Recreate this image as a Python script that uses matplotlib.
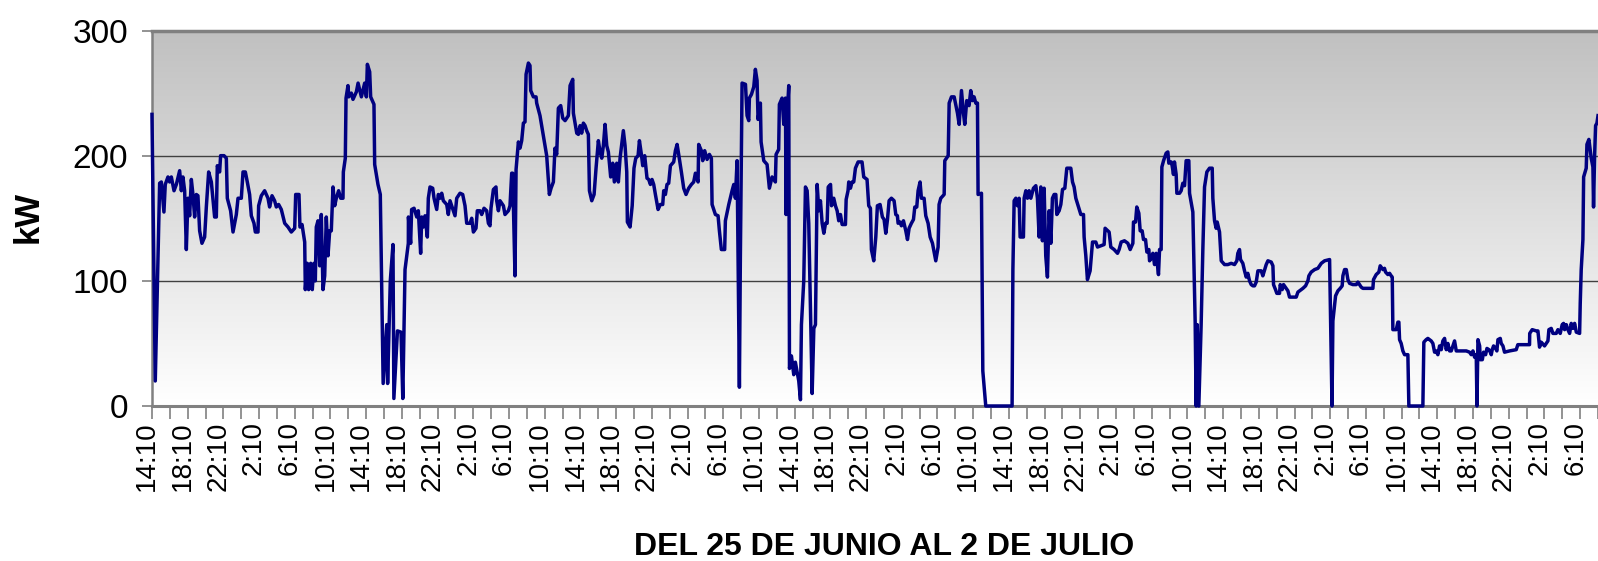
import numpy as np
import matplotlib
matplotlib.use("Agg")
import matplotlib.pyplot as plt
from matplotlib.colors import LinearSegmentedColormap
from matplotlib.transforms import ScaledTranslation

plt.rcParams['font.family'] = ['Liberation Sans', 'DejaVu Sans']

# hours after 25 June 14:10, and demand in kW
hours = [
    0.00, 0.37, 0.86, 1.05, 1.34, 1.49, 1.79, 1.98, 2.17, 2.47, 2.73, 3.10, 3.29, 3.47, 3.66, 3.85,
    4.03, 4.22, 4.41, 4.59, 4.78, 4.97, 5.15, 5.34, 5.60, 5.90, 6.09, 6.35, 6.65, 7.02, 7.21, 7.32,
    7.58, 7.69, 8.07, 8.33, 8.44, 8.81, 9.08, 9.45, 9.64, 10.01, 10.20, 10.46, 10.68, 10.94, 11.13,
    11.43, 11.58, 11.88, 11.95, 12.25, 12.62, 13.00, 13.18, 13.45, 13.74, 13.93, 14.19, 14.49, 14.87,
    15.24, 15.61, 15.99, 16.10, 16.47, 16.58, 16.81, 17.11, 17.18, 17.40, 17.55, 17.78, 17.96, 18.15,
    18.30, 18.41, 18.60, 18.79, 18.97, 19.16, 19.35, 19.53, 19.72, 19.91, 20.09, 20.28, 20.47, 20.65,
    20.91, 21.14, 21.40, 21.44, 21.66, 21.74, 21.96, 22.04, 22.33, 22.52, 22.90, 23.09, 23.46, 23.83,
    24.02, 24.13, 24.39, 24.50, 24.87, 24.95, 25.32, 25.58, 25.90, 26.30, 26.40, 26.70, 27.00, 27.10,
    27.50, 27.90, 28.10, 28.35, 28.72, 28.73, 28.98, 29.09, 29.36, 29.66, 29.84, 30.10, 30.22, 30.40,
    30.59, 30.85, 30.96, 31.15, 31.45, 31.60, 31.90, 32.08, 32.27, 32.46, 32.64, 33.02, 33.20, 33.39,
    33.58, 33.95, 34.14, 34.51, 34.81, 35.07, 35.26, 35.63, 35.82, 36.01, 36.30, 36.45, 36.75, 36.94,
    37.20, 37.50, 37.69, 37.87, 37.98, 38.25, 38.54, 38.62, 38.81, 38.99, 39.37, 39.55, 39.93, 40.11,
    40.30, 40.41, 40.56, 40.67, 40.79, 41.05, 41.23, 41.42, 41.61, 41.79, 41.91, 42.17, 42.35, 42.43,
    42.73, 43.03, 43.10, 43.47, 43.85, 44.22, 44.52, 44.71, 44.97, 45.15, 45.34, 45.53, 45.79, 46.02,
    46.28, 46.65, 46.84, 47.14, 47.21, 47.59, 47.77, 47.96, 48.14, 48.33, 48.52, 48.70, 48.89, 49.01,
    49.27, 49.53, 49.75, 50.01, 50.20, 50.39, 50.57, 50.76, 50.95, 51.13, 51.39, 51.62, 51.80, 52.07,
    52.25, 52.44, 52.63, 52.81, 53.00, 53.19, 53.26, 53.56, 53.80, 54.00, 54.20, 54.46, 54.61, 54.83,
    54.98, 55.20, 55.35, 55.46, 55.65, 55.84, 56.02, 56.21, 56.40, 56.70, 56.95, 57.22, 57.33, 57.52,
    57.70, 57.89, 58.08, 58.45, 58.64, 58.83, 59.01, 59.31, 59.57, 59.83, 60.13, 60.43, 60.69, 60.88,
    61.18, 61.25, 61.55, 61.70, 61.92, 62.19, 62.45, 62.67, 62.75, 63.12, 63.42, 63.57, 63.79, 64.16,
    64.24, 64.62, 64.99, 65.18, 65.36, 65.55, 65.81, 65.92, 66.11, 66.49, 66.67, 66.86, 66.93, 67.16,
    67.42, 67.60, 67.79, 67.90, 68.16, 68.24, 68.54, 68.91, 69.17, 69.47, 69.84, 69.92, 70.21, 70.29,
    70.59, 70.78, 70.97, 71.04, 71.15, 71.34, 71.42, 71.64, 71.90, 72.08, 72.46, 72.65, 72.76, 73.02,
    73.21, 73.40, 73.58, 73.96, 74.15, 74.33, 74.52, 74.71, 74.89, 75.08, 75.27, 75.46, 75.64, 75.76,
    76.02, 76.13, 76.38, 76.57, 76.76, 76.94, 77.13, 77.32, 77.69, 77.77, 77.98, 78.06, 78.25, 78.43,
    78.62, 78.81, 79.11, 79.55, 79.74, 80.11, 80.30, 80.49, 80.60, 80.86, 81.09, 81.27, 81.57, 81.83,
    82.02, 82.21, 82.40, 82.58, 82.84, 83.14, 83.33, 83.51, 83.59, 83.81, 83.96, 84.19, 84.45, 84.64,
    84.82, 85.08, 85.31, 85.46, 85.68, 85.83, 86.05, 86.20, 86.50, 86.69, 86.95, 87.18, 87.44, 87.63,
    87.81, 88.07, 88.18, 88.37, 88.75, 88.82, 89.20, 89.31, 89.57, 89.87, 90.24, 90.43, 90.69, 90.91,
    91.06, 91.28, 91.54, 91.73, 91.92, 92.10, 92.29, 92.48, 92.55, 92.93, 93.08, 93.41, 96.36, 96.45,
    96.59, 96.78, 96.96, 97.15, 97.26, 97.63, 97.71, 97.90, 98.08, 98.27, 98.46, 98.75, 99.02, 99.20,
    99.39, 99.58, 99.76, 99.95, 100.13, 100.32, 100.51, 100.70, 100.88, 101.07, 101.26, 101.37, 101.63,
    101.82, 102.01, 102.27, 102.49, 102.94, 103.13, 103.31, 103.50, 103.76, 104.06, 104.36, 104.43,
    104.62, 104.80, 105.10, 105.37, 105.74, 105.93, 106.30, 106.67, 106.78, 107.23, 107.42, 107.79,
    108.17, 108.35, 108.58, 108.95, 109.33, 109.59, 109.89, 109.96, 110.19, 110.33, 110.56, 110.71,
    110.93, 111.08, 111.31, 111.46, 111.68, 111.76, 111.94, 112.13, 112.32, 112.50, 112.76, 112.88,
    113.06, 113.14, 113.33, 113.62, 113.81, 113.92, 114.18, 114.29, 114.44, 114.55, 114.74, 114.82,
    115.12, 115.30, 115.49, 115.68, 115.86, 116.16, 116.24, 116.61, 116.87, 116.98, 117.10, 117.28,
    117.54, 117.73, 117.92, 118.18, 118.48, 118.78, 118.85, 119.04, 119.22, 119.34, 119.60, 119.79,
    120.16, 120.53, 120.91, 121.28, 121.54, 121.65, 121.84, 121.95, 122.21, 122.40, 122.59, 122.77,
    122.96, 123.15, 123.34, 123.52, 123.71, 123.90, 124.27, 124.45, 124.83, 125.02, 125.39, 125.58,
    125.65, 125.87, 126.02, 126.32, 126.40, 126.62, 126.77, 127.07, 127.26, 127.44, 128.19, 128.38,
    128.94, 129.24, 129.50, 129.61, 129.87, 130.25, 130.62, 131.00, 131.37, 131.93, 132.05, 132.20,
    132.30, 132.60, 132.86, 133.12, 133.34, 133.42, 133.61, 133.80, 133.98, 134.17, 134.54, 134.92,
    135.10, 135.28, 135.47, 135.66, 136.78, 136.85, 137.15, 137.45, 137.60, 137.90, 138.08, 138.20,
    138.46, 138.65, 138.83, 138.95, 139.02, 139.40, 139.58, 139.69, 139.77, 139.95, 140.14, 140.33,
    140.70, 140.81, 142.38, 142.49, 142.75, 142.94, 143.31, 143.50, 143.69, 143.87, 144.06, 144.25,
    144.44, 144.62, 144.81, 145.00, 145.18, 145.37, 145.56, 145.74, 145.93, 146.12, 146.49, 146.87,
    147.24, 147.61, 147.80, 147.99, 148.17, 148.36, 148.44, 148.55, 148.74, 148.81, 149.04, 149.18,
    149.41, 149.56, 149.78, 149.93, 150.04, 150.15, 150.30, 150.53, 150.67, 150.79, 151.05, 151.16,
    151.35, 151.53, 152.09, 152.84, 153.02, 154.33, 154.35, 154.63, 155.08, 155.27, 155.45, 155.64,
    156.01, 156.39, 156.50, 156.76, 156.95, 157.32, 157.51, 157.77, 157.99, 158.14, 158.26, 158.45,
    158.63, 158.82, 159.00, 159.19, 159.38, 159.57, 159.94, 160.01, 160.12, 160.31, 160.39, 160.68,
    160.76, 160.98, 161.24, 161.43, 161.50, 161.62, 161.73, 161.88, 162.00,
]
kw = [
    233, 20, 178, 179, 155, 177, 183, 179, 183, 172, 177, 188, 172, 183, 172, 125,
    166, 152, 181, 169, 151, 169, 168, 140, 130, 135, 159, 187, 179, 151, 151, 192,
    187, 200, 200, 198, 166, 156, 139, 153, 166, 166, 187, 187, 179, 169, 152,
    146, 139, 139, 160, 168, 172, 166, 159, 168, 164, 159, 161, 157, 146,
    143, 139, 142, 169, 169, 143, 145, 131, 93, 114, 93, 114, 93, 114,
    100, 143, 148, 112, 153, 93, 104, 151, 120, 140, 140, 175, 160, 166,
    172, 166, 166, 187, 198, 246, 256, 247, 250, 245, 251, 258, 247, 258,
    247, 273, 267, 247, 241, 193, 177, 169, 18, 65, 18, 100, 129, 6,
    60, 59, 6, 109, 130, 151, 130, 157, 158, 151, 156, 122, 151, 143,
    152, 135, 166, 175, 174, 166, 157, 169, 166, 170, 164, 161, 153, 164,
    160, 152, 166, 170, 169, 160, 146, 146, 150, 139, 142, 156, 156, 153,
    158, 156, 146, 144, 158, 173, 175, 164, 156, 164, 160, 153, 156, 160,
    186, 186, 138, 104, 189, 211, 206, 212, 226, 227, 265, 274, 272, 252,
    247, 247, 242, 232, 216, 200, 169, 174, 179, 206, 201, 238, 240, 230,
    228, 232, 256, 261, 234, 218, 217, 224, 218, 226, 224, 220, 217, 172,
    164, 169, 190, 212, 203, 198, 208, 225, 208, 203, 183, 194, 179, 194,
    179, 198, 209, 220, 208, 187, 147, 143, 160, 190, 198, 200, 212, 201,
    192, 200, 190, 182, 181, 177, 181, 177, 169, 157, 161, 161, 172, 169,
    177, 178, 192, 195, 204, 209, 201, 187, 174, 169, 174, 177, 179, 186,
    179, 209, 204, 196, 204, 197, 201, 198, 161, 153, 152, 140, 125, 125,
    148, 161, 172, 177, 166, 196, 15, 120, 258, 257, 232, 228, 246, 249,
    255, 269, 260, 229, 242, 211, 196, 193, 174, 183, 179, 201, 205, 241,
    246, 225, 246, 153, 230, 256, 30, 40, 25, 35, 20, 5, 65, 100,
    175, 172, 146, 10, 62, 65, 177, 156, 164, 146, 138, 146, 146, 175,
    177, 160, 166, 160, 156, 148, 153, 145, 145, 165, 172, 179, 174, 179,
    179, 190, 195, 195, 183, 181, 160, 158, 125, 116, 135, 160, 161, 151,
    149, 138, 149, 164, 166, 164, 153, 152, 146, 147, 144, 148, 140, 133,
    142, 146, 149, 159, 159, 172, 179, 166, 166, 152, 146, 135, 130, 123,
    116, 127, 161, 166, 169, 196, 200, 242, 247, 247, 234, 225, 252, 234,
    225, 244, 240, 252, 244, 247, 242, 242, 169, 170, 28, 0, 0, 109,
    164, 166, 160, 166, 135, 135, 166, 172, 166, 172, 166, 174, 176, 166,
    135, 175, 132, 174, 120, 103, 156, 130, 166, 169, 169, 153, 156,
    161, 173, 174, 190, 190, 179, 175, 166, 160, 153, 153, 135,
    120, 101, 108, 131, 131, 127, 128, 129, 142, 139, 127, 125,
    122, 125, 131, 132, 130, 125, 130, 147, 147, 159, 154, 140,
    140, 133, 133, 123, 125, 116, 118, 122, 113, 122, 105, 125,
    125, 191, 196, 202, 203, 194, 195, 192, 185, 195, 185, 170,
    170, 172, 178, 176, 196, 196, 170, 155, 67, 0, 65, 0,
    65, 125, 175, 187, 190, 190, 166, 148, 142, 147, 139, 116,
    113, 113, 114, 113, 116, 122, 125, 117, 114, 108, 103, 106,
    100, 97, 96, 96, 99, 108, 108, 104, 113, 116, 115, 112,
    97, 93, 90, 90, 97, 93, 97, 94, 92, 87, 87, 91,
    94, 96, 100, 104, 107, 109, 110, 114, 116, 117, 65, 0,
    68, 88, 92, 94, 96, 104, 109, 109, 101, 98, 97, 97,
    99, 97, 95, 94, 94, 101, 105, 107, 112, 109, 110, 107,
    105, 106, 104, 103, 61, 61, 67, 67, 53, 50, 44, 41,
    41, 0, 0, 51, 53, 54, 52, 50, 43, 44, 41, 48,
    45, 52, 54, 45, 50, 44, 44, 48, 52, 44, 44, 44,
    44, 43, 41, 44, 39, 41, 0, 53, 48, 37, 37, 43,
    41, 46, 45, 43, 41, 45, 48, 46, 44, 53, 54, 50,
    48, 43, 44, 45, 49, 49, 58, 61, 60, 60, 47, 51,
    48, 52, 61, 62, 58, 58, 61, 58, 65, 66, 61, 65,
    61, 58, 66, 62, 66, 59, 58, 82, 109, 133, 183, 190,
    209, 213, 198, 191, 159, 200, 224, 226, 232,
]

day_cycle = ["14:10", "18:10", "22:10", "2:10", "6:10", "10:10"]
tick_labels = (day_cycle * 7)[:41]
y_ticks = [0, 100, 200, 300]

fig = plt.figure(figsize=(15.98, 5.61), dpi=100)
ax = fig.add_axes([0.0951, 0.2763, 0.9049, 0.6693])

# grey-to-white background like the old Excel plot area
bg = LinearSegmentedColormap.from_list("bg", ["#ffffff", "#c0c0c0"])
grad = np.linspace(0, 1, 256).reshape(-1, 1)
ax.imshow(grad, extent=[0, 162, 0, 300], origin="lower", aspect="auto", cmap=bg, zorder=0)

ax.plot(hours, kw, color="#000080", lw=2.5, zorder=3, clip_on=False)

ax.set_xlim(0, 162)
ax.set_ylim(0, 300)
ax.set_axisbelow(True)
ax.yaxis.grid(True, color="#404040", lw=1.0)

ax.set_yticks(y_ticks)
ax.set_yticklabels([str(v) for v in y_ticks], fontsize=24)
ax.set_xticks(np.arange(0, 161, 4))
ax.set_xticks(np.arange(2, 163, 4), minor=True)
ax.set_xticklabels(tick_labels, rotation=90, fontsize=20)
ax.tick_params(axis="y", direction="out", length=7, width=1.2, color="#808080", pad=10)
ax.tick_params(axis="x", which="both", direction="out", length=9, width=1.2, color="#808080", pad=2)
shift = ScaledTranslation(-5 / 100, 0, fig.dpi_scale_trans)
for lbl in ax.get_xticklabels():
    lbl.set_transform(lbl.get_transform() + shift)

for side in ["top", "left", "bottom"]:
    ax.spines[side].set_color("#808080")
ax.spines["top"].set_linewidth(2.5)
ax.spines["left"].set_linewidth(1.8)
ax.spines["bottom"].set_linewidth(2.2)
ax.spines["right"].set_visible(False)

fig.text(0.0175, 0.613, "kW", rotation=90, ha="center", va="center", fontsize=25, fontweight="bold")
fig.text(0.553, 0.025, "DEL 25 DE JUNIO AL 2 DE JULIO", ha="center", va="center",
         fontsize=23, fontweight="bold")

fig.savefig("out.png", dpi=100)
